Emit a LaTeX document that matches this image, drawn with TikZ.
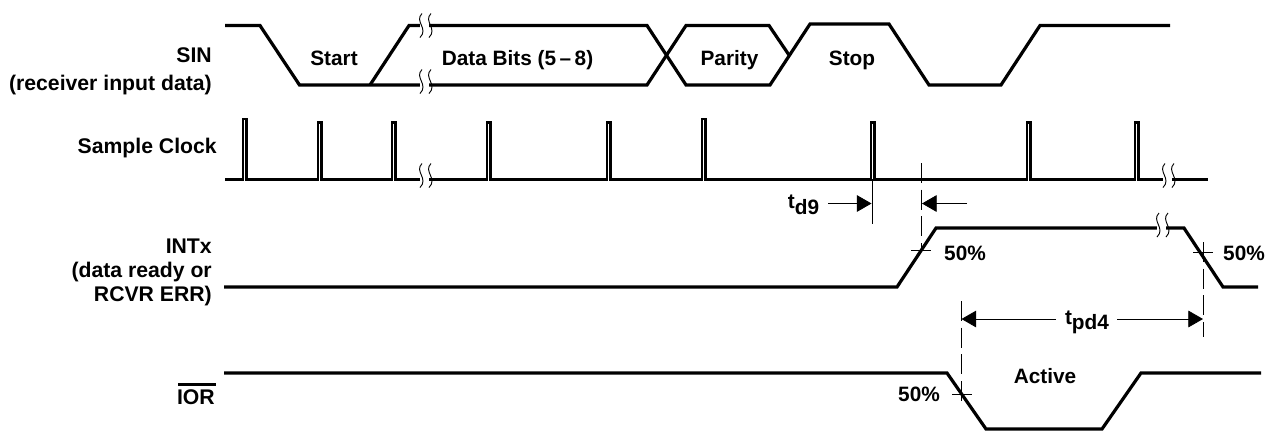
\documentclass[tikz,border=0pt]{standalone}
\usepackage{fontspec}
\setmainfont{Liberation Sans}
\usetikzlibrary{arrows.meta}
\tikzset{
 x=0.75pt,y=-0.75pt,
 sig/.style={line width=2.4pt,line join=miter,black},
 pulse/.style={line width=1.7pt,line join=miter,black},
 thinl/.style={line width=0.6pt,black},
 dashl/.style={line width=0.6pt,black,dash pattern=on 15pt off 5pt},
 dimarrow/.style={line width=0.6pt,black,-{Triangle[length=11pt,width=12.5pt]}},
 lab/.style={font=\fontsize{15.6pt}{18pt}\selectfont\bfseries,inner sep=0pt,anchor=base},
 leftlab/.style={font=\fontsize{15.9pt}{18pt}\selectfont\bfseries,inner sep=0pt,align=right,anchor=east},
 brk/.pic={
   \fill[white] (-5,-9) rectangle (4,9);
   \draw[line width=0.7pt] (-3,-12) .. controls (-11,-4) and (4,3) .. (-5,12);
   \draw[line width=0.7pt] (6,-12) .. controls (-2,-4) and (13,3) .. (4,12);
 }
}
\begin{document}
\begin{tikzpicture}
\useasboundingbox (0,0) rectangle (1268,430);
% SIN
\draw[sig] (225,25.5) -- (260,25.5) -- (299.5,85) -- (647,85) -- (686,25.5) -- (769,25.5) -- (789,55);
\draw[sig] (370,85) -- (409,25.5) -- (647,25.5) -- (686,85) -- (770,85) -- (810,24) -- (889,24) -- (929,85) -- (1001,85) -- (1040,25.5) -- (1170,25.5);
\pic at (425,25.5) {brk};
\pic at (425,81.5) {brk};
% Sample clock
\draw[sig] (225,179.5) -- (1208,179.5);
\foreach \a/\t in {242/119,317/122.5,391/122.5,486/122.5,606/122.5,701/119,870/122.5,1026/122.5,1134/122.5}{
  \fill[white] (\a+1.6,176) rectangle (\a+3.8,183);
  \draw[pulse] (\a+0.8,181) -- (\a+0.8,\t) -- (\a+4.6,\t) -- (\a+4.6,181);
}
\pic at (425,175.5) {brk};
\pic at (1168,175.5) {brk};
% INTx
\draw[sig] (224,287) -- (897,287) -- (936,228) -- (1184,228) -- (1223,287) -- (1258,287);
\pic at (1162,225) {brk};
% IOR
\draw[sig] (224,373) -- (947,373) -- (986,429) -- (1102,429) -- (1141,373) -- (1261,373);
% timing guides
\coordinate (a9) at (872,179);
\coordinate (b9) at (872,224);
\draw[thinl] (a9) -- (b9);
\draw[dashl] (921,163) -- (921,252);
\draw[thinl] (911,250) -- (931,250);
\draw[dashl] (1203,242) -- (1203,337);
\draw[thinl] (1193,252) -- (1213,252);
\draw[dashl] (961.5,301) -- (961.5,403);
\draw[thinl] (952,394) -- (972,394);
% arrows
\node[lab] (td9) at (803.5,208) {t\raisebox{-4.5pt}{d9}};
\node[lab] (tpd4) at (1087,324) {t\raisebox{-4pt}{pd4}};
\coordinate (t1) at (871.5,203.5);
\coordinate (t2) at (922,203.5);
\coordinate (s2) at (967,203.5);
\coordinate (l1) at (961.5,319);
\coordinate (r1) at (1203,319);
\draw[dimarrow] (828,203.5) -- (t1);
\draw[dimarrow] (s2) -- (t2);
\draw[dimarrow] (1056,319) -- (l1);
\draw[dimarrow] (1117,319) -- (r1);
% labels
\node[lab] (start) at (334,65) {Start};
\node[lab] (data) at (517.5,65) {Data Bits (5\,–\,8)};
\node[lab] (parity) at (729.5,65) {Parity};
\node[lab] (stop) at (852,65) {Stop};
\node[lab] (p1) at (965,260.7) {50\%};
\node[lab] (p2) at (1244,260.7) {50\%};
\node[lab] (p3) at (919,401.7) {50\%};
\node[lab] (act) at (1045,383) {Active};
\node[leftlab] (sin) at (212,71) {SIN\\[3pt](receiver input data)};
\node[leftlab] (clk) at (217,148) {Sample Clock};
\node[leftlab] (int) at (212,272) {INTx\\(data ready or\\RCVR ERR)};
\node[leftlab] (ior) at (215,397) {IOR};
\draw[line width=2pt] (178,384.5) -- (216,384.5);
\end{tikzpicture}
\end{document}
